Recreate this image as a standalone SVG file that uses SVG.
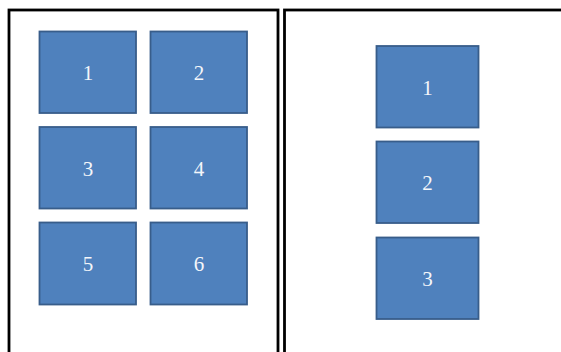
<svg xmlns="http://www.w3.org/2000/svg" width="561" height="352" viewBox="0 0 561 352">
<style>
.panel{fill:#fff;stroke:#000;stroke-width:2.8}
.box{fill:#4f81bd;stroke:#385d8a;stroke-width:1.8}
.lbl{fill:#f4f6fa;font-family:"Liberation Serif","DejaVu Serif",serif;font-size:21px;text-anchor:middle;dominant-baseline:central}
</style>
<rect width="561" height="352" fill="#fff"/>
<g id="panel-left"><rect class="panel" x="9" y="10" width="269" height="360"/></g>
<g id="panel-right"><rect class="panel" x="284.5" y="10" width="300" height="360"/></g>
<g id="L1"><rect class="box" x="39.5" y="31.5" width="96.5" height="81.5"/><text class="lbl" x="88" y="73">1</text></g>
<g id="L2"><rect class="box" x="150.5" y="31.5" width="96.5" height="81.5"/><text class="lbl" x="199" y="73">2</text></g>
<g id="L3"><rect class="box" x="39.5" y="127" width="96.5" height="81.5"/><text class="lbl" x="88" y="168.5">3</text></g>
<g id="L4"><rect class="box" x="150.5" y="127" width="96.5" height="81.5"/><text class="lbl" x="199" y="168.5">4</text></g>
<g id="L5"><rect class="box" x="39.5" y="222.5" width="96.5" height="82"/><text class="lbl" x="88" y="264">5</text></g>
<g id="L6"><rect class="box" x="150.5" y="222.5" width="96.5" height="82"/><text class="lbl" x="199" y="264">6</text></g>
<g id="R1"><rect class="box" x="376.5" y="46" width="102" height="81.5"/><text class="lbl" x="427.5" y="87.5">1</text></g>
<g id="R2"><rect class="box" x="376.5" y="141.5" width="102" height="81.5"/><text class="lbl" x="427.5" y="183">2</text></g>
<g id="R3"><rect class="box" x="376.5" y="237.5" width="102" height="81.5"/><text class="lbl" x="427.5" y="279">3</text></g>
<g id="connectors"></g>
</svg>
